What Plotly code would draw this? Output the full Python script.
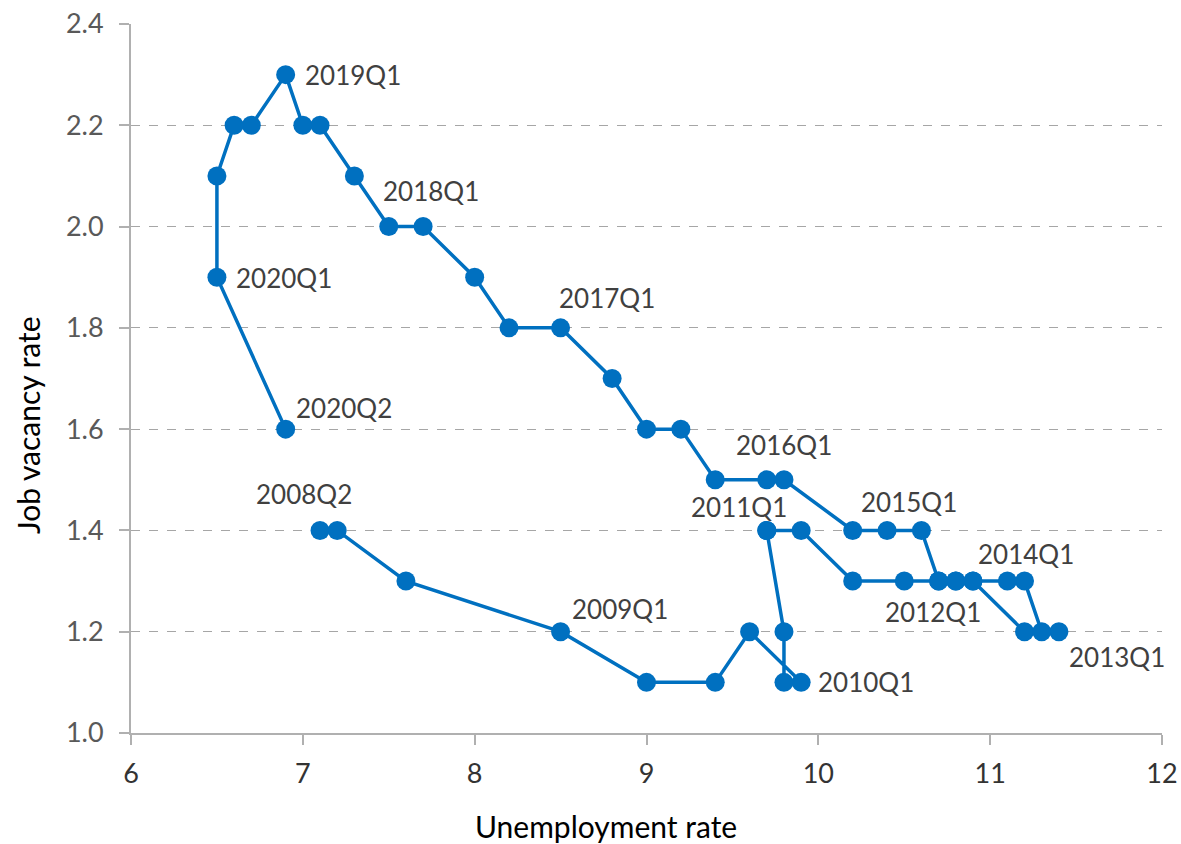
import plotly.graph_objects as go

quarters = [
    "2008Q2", "2008Q3", "2008Q4",
    "2009Q1", "2009Q2", "2009Q3", "2009Q4",
    "2010Q1", "2010Q2", "2010Q3", "2010Q4",
    "2011Q1", "2011Q2", "2011Q3", "2011Q4",
    "2012Q1", "2012Q2", "2012Q3", "2012Q4",
    "2013Q1", "2013Q2", "2013Q3", "2013Q4",
    "2014Q1", "2014Q2", "2014Q3", "2014Q4",
    "2015Q1", "2015Q2", "2015Q3", "2015Q4",
    "2016Q1", "2016Q2", "2016Q3", "2016Q4",
    "2017Q1", "2017Q2", "2017Q3", "2017Q4",
    "2018Q1", "2018Q2", "2018Q3", "2018Q4",
    "2019Q1", "2019Q2", "2019Q3", "2019Q4",
    "2020Q1", "2020Q2",
]
unemployment = [
    7.1, 7.2, 7.6,
    8.5, 9.0, 9.4, 9.6,
    9.9, 9.8, 9.8, 9.7,
    9.7, 9.9, 10.2, 10.5,
    10.7, 10.8, 10.9, 11.2,
    11.4, 11.3, 11.2, 11.1,
    10.9, 10.8, 10.7, 10.6,
    10.4, 10.2, 9.8, 9.7,
    9.4, 9.2, 9.0, 8.8,
    8.5, 8.2, 8.0, 7.7,
    7.5, 7.3, 7.1, 7.0,
    6.9, 6.7, 6.6, 6.5,
    6.5, 6.9,
]
vacancy = [
    1.4, 1.4, 1.3,
    1.2, 1.1, 1.1, 1.2,
    1.1, 1.1, 1.2, 1.4,
    1.4, 1.4, 1.3, 1.3,
    1.3, 1.3, 1.3, 1.2,
    1.2, 1.2, 1.3, 1.3,
    1.3, 1.3, 1.3, 1.4,
    1.4, 1.4, 1.5, 1.5,
    1.5, 1.6, 1.6, 1.7,
    1.8, 1.8, 1.9, 2.0,
    2.0, 2.1, 2.2, 2.2,
    2.3, 2.2, 2.2, 2.1,
    1.9, 1.6,
]

# Labelled quarters and where their text sits (data coordinates, left edge / middle)
label_text = ["2008Q2", "2009Q1", "2010Q1", "2011Q1", "2012Q1", "2013Q1",
              "2014Q1", "2015Q1", "2016Q1", "2017Q1", "2018Q1", "2019Q1",
              "2020Q1", "2020Q2"]
label_x = [6.74, 8.58, 10.01, 9.27, 10.40, 11.47,
           10.94, 10.26, 9.53, 8.50, 7.48, 7.025,
           6.62, 6.97]
label_y = [1.471, 1.244, 1.101, 1.447, 1.238, 1.150,
           1.353, 1.457, 1.569, 1.859, 2.071, 2.30,
           1.898, 1.642]

x_ticks = [6, 7, 8, 9, 10, 11, 12]
y_ticks = [1.0, 1.2, 1.4, 1.6, 1.8, 2.0, 2.2, 2.4]

BLUE = "#0070C0"
FONT = "Lato"

W, H = 1181, 844
ML, MR, MT, MB = 131, 19, 24, 111
PW, PH = W - ML - MR, H - MT - MB

fig = go.Figure()
fig.add_trace(go.Scatter(
    x=unemployment, y=vacancy, text=quarters,
    mode="lines+markers",
    line=dict(color=BLUE, width=3.5),
    marker=dict(color=BLUE, size=19),
    hovertemplate="%{text}: (%{x}, %{y})<extra></extra>",
    showlegend=False,
))

for t, lx, ly in zip(label_text, label_x, label_y):
    fig.add_annotation(x=lx, y=ly, text=t, showarrow=False,
                       xanchor="left", yanchor="middle", xshift=-4,
                       font=dict(family=FONT, size=26, color="#404040"))

# axis titles (placed in paper coordinates from pixel positions)
fig.add_annotation(xref="paper", yref="paper",
                   x=(606 - ML) / PW, y=1 - (826 - MT) / PH,
                   xanchor="center", yanchor="middle",
                   text="Unemployment rate", showarrow=False,
                   font=dict(family=FONT, size=30, color="#000000"))
fig.add_annotation(xref="paper", yref="paper",
                   x=(28 - ML) / PW, y=1 - (425 - MT) / PH,
                   xanchor="center", yanchor="middle",
                   text="Job vacancy rate", textangle=-90, showarrow=False,
                   font=dict(family=FONT, size=30, color="#000000"))

fig.update_layout(
    width=W, height=H, autosize=False,
    margin=dict(l=ML, r=MR, t=MT, b=MB, pad=0),
    paper_bgcolor="white", plot_bgcolor="white",
    font=dict(family=FONT),
    xaxis=dict(
        range=[6, 12], tickvals=x_ticks, ticktext=[str(v) for v in x_ticks],
        showgrid=False, zeroline=False, automargin=False,
        showline=True, linecolor="#B0B0B0", linewidth=2,
        ticks="outside", ticklen=10, tickwidth=2, tickcolor="#B0B0B0",
        ticklabelstandoff=6,
        tickfont=dict(family=FONT, size=27, color="#333333"),
    ),
    yaxis=dict(
        range=[1.0, 2.4], tickvals=y_ticks, ticktext=[f"{v:.1f}" for v in y_ticks],
        showgrid=True, gridcolor="#A6A6A6", griddash="dash", gridwidth=1.3,
        zeroline=False, automargin=False,
        showline=True, linecolor="#B0B0B0", linewidth=2,
        ticks="outside", ticklen=10, tickwidth=2, tickcolor="#B0B0B0",
        ticklabelstandoff=10,
        tickfont=dict(family=FONT, size=27, color="#595959"),
    ),
)

fig.write_html(
    "out.html",
    config={"displayModeBar": False},
    post_script="document.body.style.margin='0';document.body.style.overflow='hidden';",
)
